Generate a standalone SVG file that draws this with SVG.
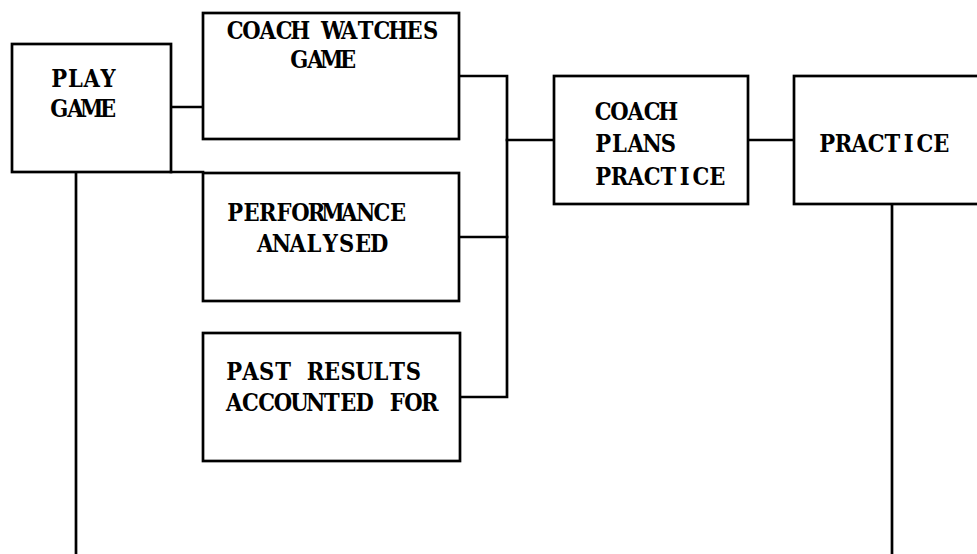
<svg xmlns="http://www.w3.org/2000/svg" width="977" height="554" viewBox="0 0 977 554">
  <style>
    .box { fill: #ffffff; stroke: #000000; stroke-width: 2.7; }
    .wire { fill: none; stroke: #000000; stroke-width: 2.7; stroke-linecap: square; }
    /* typewriter-style labels: each glyph sits centred in a fixed 16.3px cell
       (x lists are in the 0.88-wide scaled space, 18.523 per cell) */
    .label { font-family: "DejaVu Serif", "Liberation Serif", serif; font-weight: bold; font-size: 24px; fill: #000000; text-anchor: middle; }
  </style>
  <rect width="977" height="554" fill="#ffffff"/>

  <g id="connectors">
    <!-- play game to coach watches game -->
    <line class="wire" x1="171" y1="107" x2="203" y2="107"/>
    <!-- play game bottom edge running on to the analysis box -->
    <line class="wire" x1="171" y1="172" x2="203" y2="172"/>
    <!-- long return line below play game -->
    <line class="wire" x1="76" y1="172" x2="76" y2="554"/>
    <!-- three inputs gathered on the collector bar -->
    <polyline class="wire" points="459,76 507,76 507,397 459,397"/>
    <line class="wire" x1="459" y1="237" x2="507" y2="237"/>
    <!-- collector bar to coach plans practice -->
    <line class="wire" x1="507" y1="140" x2="554" y2="140"/>
    <!-- coach plans practice to practice -->
    <line class="wire" x1="748" y1="140" x2="794" y2="140"/>
    <!-- return line below practice -->
    <line class="wire" x1="892" y1="204" x2="892" y2="554"/>
  </g>

  <g id="play-game">
    <rect class="box" x="12" y="44" width="159" height="128"/>
    <text class="label" transform="translate(51 87) scale(0.88 1)" x="9.26 27.78 46.31 64.83" y="0">PLAY</text>
    <text class="label" transform="translate(51 117) scale(0.88 1)" x="9.26 27.78 46.31 64.83" y="0">GAME</text>
  </g>

  <g id="coach-watches-game">
    <rect class="box" x="203" y="13" width="256" height="126"/>
    <text class="label" transform="translate(227 39) scale(0.88 1)" x="9.26 27.78 46.31 64.83 83.35 101.88 120.40 138.92 157.44 175.97 194.49 213.01 231.54" y="0">COACH WATCHES</text>
    <text class="label" transform="translate(291 68) scale(0.88 1)" x="9.26 27.78 46.31 64.83" y="0">GAME</text>
  </g>

  <g id="performance-analysed">
    <rect class="box" x="203" y="173" width="256" height="128"/>
    <text class="label" transform="translate(227 221) scale(0.88 1)" x="9.26 27.78 46.31 64.83 83.35 101.88 120.40 138.92 157.44 175.97 194.49" y="0">PERFORMANCE</text>
    <text class="label" transform="translate(257 252) scale(0.88 1)" x="9.26 27.78 46.31 64.83 83.35 101.88 120.40 138.92" y="0">ANALYSED</text>
  </g>

  <g id="past-results">
    <rect class="box" x="203" y="333" width="257" height="128"/>
    <text class="label" transform="translate(226 380) scale(0.88 1)" x="9.26 27.78 46.31 64.83 83.35 101.88 120.40 138.92 157.44 175.97 194.49 213.01" y="0">PAST RESULTS</text>
    <text class="label" transform="translate(226 411) scale(0.88 1)" x="9.26 27.78 46.31 64.83 83.35 101.88 120.40 138.92 157.44 175.97 194.49 213.01 231.54" y="0">ACCOUNTED FOR</text>
  </g>

  <g id="coach-plans-practice">
    <rect class="box" x="554" y="76" width="194" height="128"/>
    <text class="label" transform="translate(595 120) scale(0.88 1)" x="9.26 27.78 46.31 64.83 83.35" y="0">COACH</text>
    <text class="label" transform="translate(595 152) scale(0.88 1)" x="9.26 27.78 46.31 64.83 83.35" y="0">PLANS</text>
    <text class="label" transform="translate(595 185) scale(0.88 1)" x="9.26 27.78 46.31 64.83 83.35 101.88 120.40 138.92" y="0">PRACTICE</text>
  </g>

  <g id="practice">
    <rect class="box" x="794" y="76" width="190" height="128"/>
    <text class="label" transform="translate(819 152) scale(0.88 1)" x="9.26 27.78 46.31 64.83 83.35 101.88 120.40 138.92" y="0">PRACTICE</text>
  </g>
</svg>
